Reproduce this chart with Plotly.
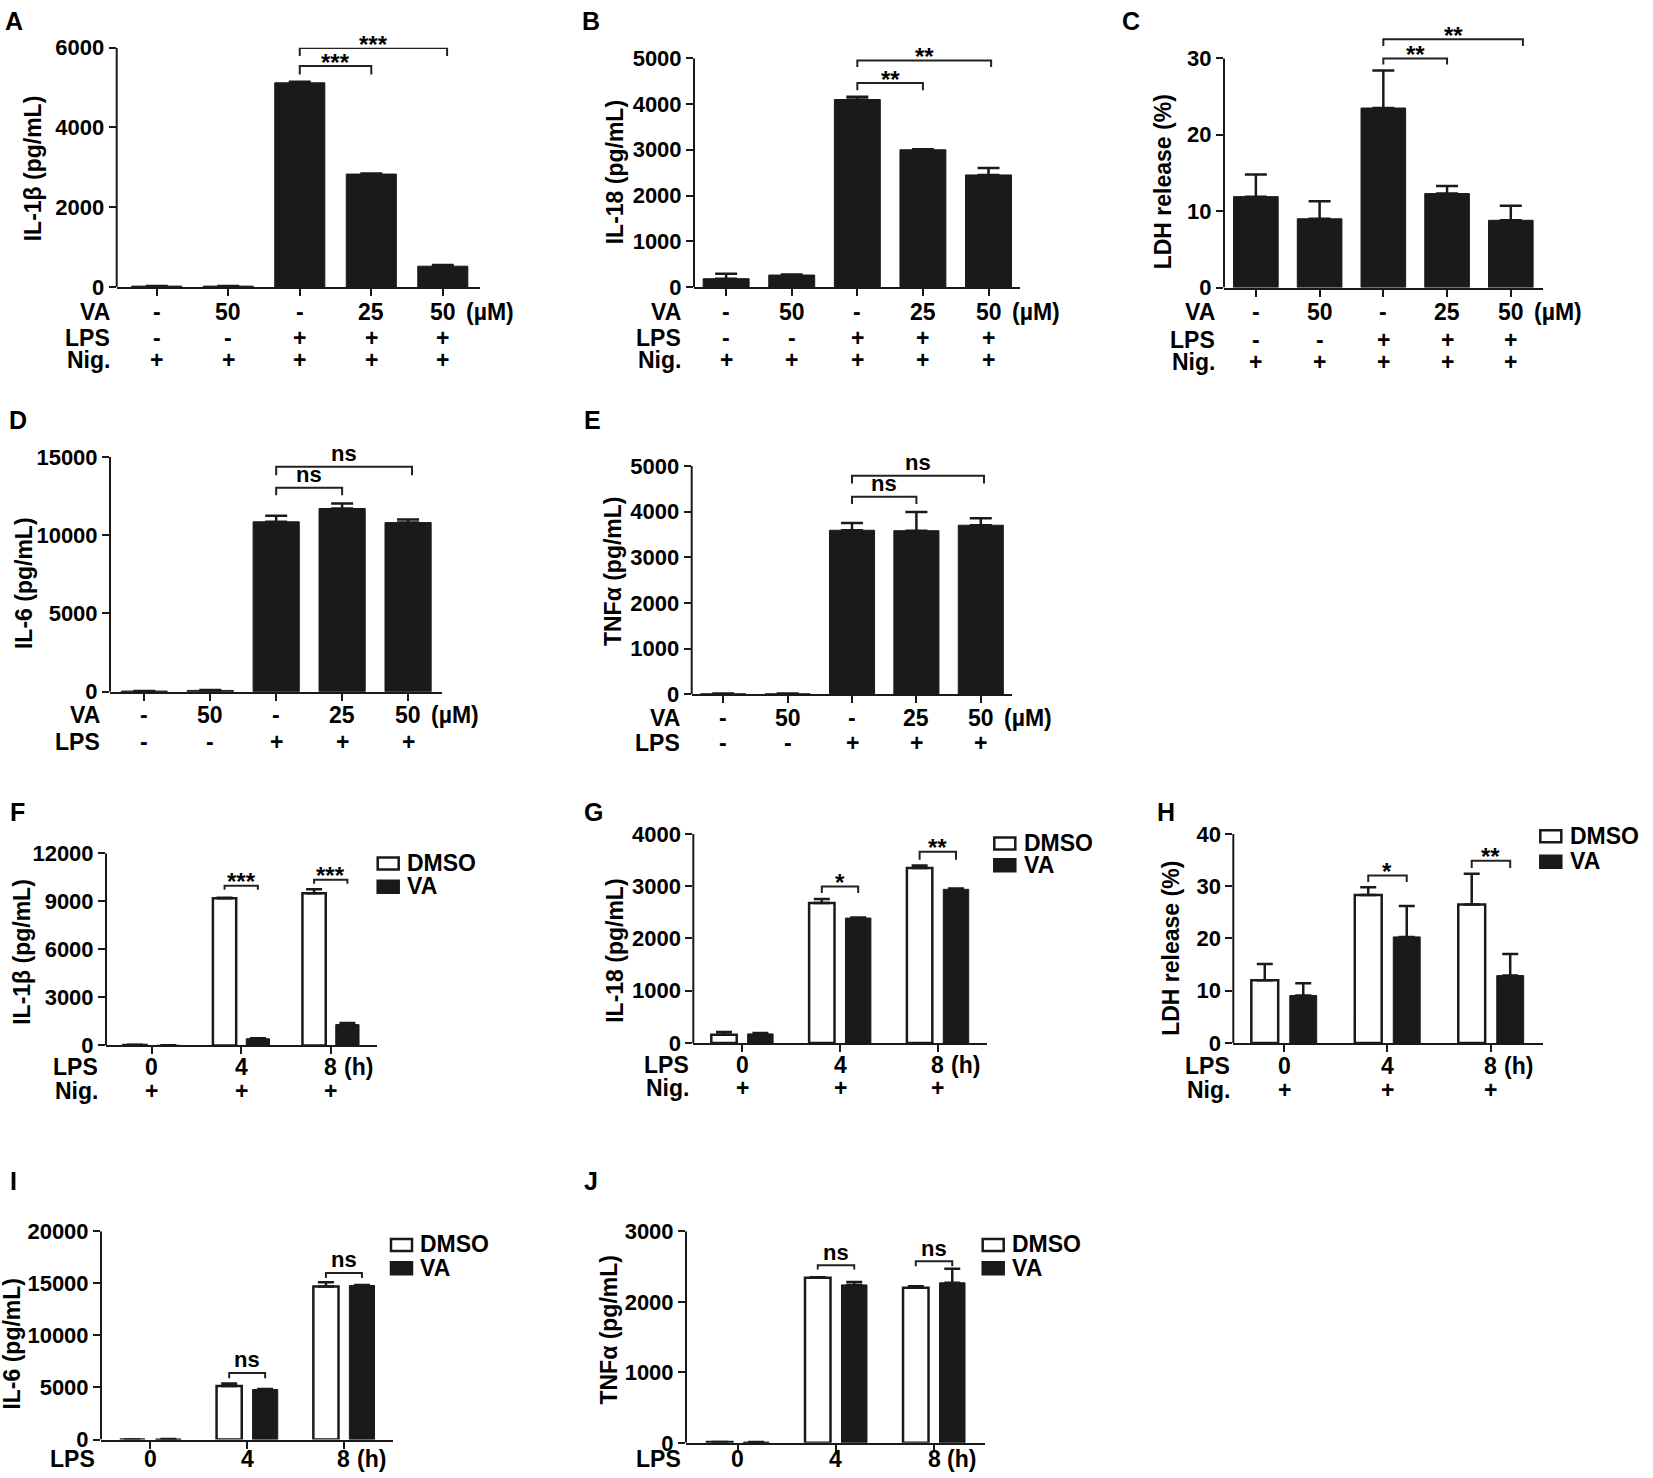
import plotly.graph_objects as go

W, H = 1653, 1478
FONT = 'Liberation Sans, Arial, Helvetica, sans-serif'
INK = '#1a1a1a'

# ---------------- data ----------------
# x labels
va_dose = ['-', '50', '-', '25', '50']
lps_dose = ['-', '-', '+', '+', '+']
nig_dose = ['+', '+', '+', '+', '+']
lps_time = ['0', '4', '8']
nig_time = ['+', '+', '+']

# A-E: VA dose response
il1b_va = [20, 20, 5120, 2830, 520]
il1b_va_err = [5, 5, 25, 15, 30]
il18_va = [180, 260, 4100, 3000, 2450]
il18_va_err = [110, 10, 60, 10, 150]
ldh_va = [11.9, 9.0, 23.5, 12.3, 8.8]
ldh_va_err = [2.9, 2.3, 4.9, 1.0, 1.9]
il6_va = [40, 80, 10850, 11700, 10800]
il6_va_err = [10, 20, 380, 320, 190]
tnf_va = [10, 10, 3590, 3580, 3700]
tnf_va_err = [5, 5, 160, 410, 150]

# F-J: LPS time course, DMSO vs VA
il1b_dmso = [30, 9190, 9500]
il1b_dmso_err = [10, 30, 250]
il1b_t_va = [10, 420, 1300]
il1b_t_va_err = [5, 30, 100]
il18_dmso = [160, 2680, 3350]
il18_dmso_err = [50, 75, 45]
il18_t_va = [175, 2390, 2940]
il18_t_va_err = [15, 10, 15]
ldh_dmso = [12.0, 28.3, 26.5]
ldh_dmso_err = [3.1, 1.5, 5.9]
ldh_t_va = [9.1, 20.3, 12.9]
ldh_t_va_err = [2.35, 5.9, 4.15]
il6_dmso = [0, 5150, 14700]
il6_dmso_err = [0, 230, 400]
il6_t_va = [50, 4800, 14800]
il6_t_va_err = [10, 50, 50]
tnf_dmso = [10, 2340, 2200]
tnf_dmso_err = [3, 10, 20]
tnf_t_va = [10, 2240, 2270]
tnf_t_va_err = [3, 40, 200]

rows5 = lambda y: [('VA', va_dose, y[0]), ('LPS', lps_dose, y[1]), ('Nig.', nig_dose, y[2])]

# geometry in pixels: box = (y-axis x, x-axis right end, y of zero, y of top tick)
panels = [
    dict(letter='A', lxy=(3, 15), title='IL-1β (pg/mL)', txy=(33, 168),
         box=(116.7, 480, 286.7, 47.3), ymax=6000, ylim=6000, dtick=2000, xr=(-0.56, 4.52),
         bars=[('VA', il1b_va, il1b_va_err)],
         rows=rows5((311.7, 337.7, 360)), rowx=111.7, unit='(µM)', ushift=21,
         sig=[(2, 3, 5538, 5330, '***'), (2, 4.06, 5990, 5789, '***')]),
    dict(letter='B', lxy=(580, 16), title='IL-18 (pg/mL)', txy=(615, 172),
         box=(694, 1020, 286.7, 58), ymax=5000, ylim=5000, dtick=1000, xr=(-0.49, 4.48),
         bars=[('VA', il18_va, il18_va_err)],
         rows=rows5((311.7, 337.7, 360)), rowx=683.3, unit='(µM)', ushift=21,
         sig=[(2, 3, 4461, 4301, '**'), (2, 4.04, 4951, 4811, '**')]),
    dict(letter='C', lxy=(1120, 16), title='LDH release (%)', txy=(1163, 182),
         box=(1224, 1543.3, 287.3, 58), ymax=30, ylim=33, dtick=10, xr=(-0.5, 4.51),
         bars=[('VA', ldh_va, ldh_va_err)],
         rows=rows5((311.7, 340, 361.7)), rowx=1216.7, unit='(µM)', ushift=21,
         sig=[(2, 3, 29.97, 29.19, '**'), (2, 4.19, 32.5, 31.62, '**')]),
    dict(letter='D', lxy=(7, 420), title='IL-6 (pg/mL)', txy=(24, 583),
         box=(110, 441.7, 691.7, 456.7), ymax=15000, ylim=15000, dtick=5000, xr=(-0.52, 4.51),
         bars=[('VA', il6_va, il6_va_err)],
         rows=[('VA', va_dose, 715), ('LPS', lps_dose, 741.7)], rowx=101.7, unit='(µM)', ushift=21,
         sig=[(2, 3, 13021, 12553, 'ns'), (2, 4.06, 14362, 13830, 'ns')]),
    dict(letter='E', lxy=(582, 420), title='TNFα (pg/mL)', txy=(613, 571),
         box=(691.7, 1011.7, 694.3, 465.7), ymax=5000, ylim=5000, dtick=1000, xr=(-0.49, 4.48),
         bars=[('VA', tnf_va, tnf_va_err)],
         rows=[('VA', va_dose, 718.3), ('LPS', lps_dose, 743.3)], rowx=681.7, unit='(µM)', ushift=21,
         sig=[(2, 3, 4321, 4162, 'ns'), (2, 4.05, 4780, 4614, 'ns')]),
    dict(letter='F', lxy=(8, 812), title='IL-1β (pg/mL)', txy=(22, 952),
         box=(106, 377.3, 1045.7, 853.3), ymax=12000, ylim=12000, dtick=3000, xr=(-0.51, 2.52),
         bars=[('DMSO', il1b_dmso, il1b_dmso_err), ('VA', il1b_t_va, il1b_t_va_err)],
         rows=[('LPS', lps_time, 1067.7), ('Nig.', nig_time, 1091.7)], rowx=100, unit='(h)', ushift=11,
         sig=[(0.814, 1.186, 9963, 9713, '***'), (1.814, 2.186, 10337, 10087, '***')],
         legend=(376.7, 856.7, 880, 405)),
    dict(letter='G', lxy=(582, 812), title='IL-18 (pg/mL)', txy=(615, 951),
         box=(693.3, 986.7, 1043.3, 834), ymax=4000, ylim=4000, dtick=1000, xr=(-0.5, 2.5),
         bars=[('DMSO', il18_dmso, il18_dmso_err), ('VA', il18_t_va, il18_t_va_err)],
         rows=[('LPS', lps_time, 1065), ('Nig.', nig_time, 1088.3)], rowx=691, unit='(h)', ushift=11,
         sig=[(0.814, 1.186, 2994, 2868, '*'), (1.814, 2.186, 3658, 3505, '**')],
         legend=(993.3, 836.7, 858.3, 1021.7)),
    dict(letter='H', lxy=(1155, 812), title='LDH release (%)', txy=(1171, 949),
         box=(1233.3, 1542.7, 1043.3, 834), ymax=40, ylim=40, dtick=10, xr=(-0.49, 2.5),
         bars=[('DMSO', ldh_dmso, ldh_dmso_err), ('VA', ldh_t_va, ldh_t_va_err)],
         rows=[('LPS', lps_time, 1066.7), ('Nig.', nig_time, 1090)], rowx=1231.7, unit='(h)', ushift=11,
         sig=[(0.814, 1.186, 32.05, 30.78, '*'), (1.814, 2.186, 34.86, 33.46, '**')],
         legend=(1539.3, 829.3, 855, 1568.3)),
    dict(letter='I', lxy=(8, 1181), title='IL-6 (pg/mL)', txy=(12, 1344),
         box=(101, 393.3, 1440, 1231.7), ymax=20000, ylim=20000, dtick=5000, xr=(-0.51, 2.51),
         bars=[('DMSO', il6_dmso, il6_dmso_err), ('VA', il6_t_va, il6_t_va_err)],
         rows=[('LPS', lps_time, 1461.7)], rowx=96.7, unit='(h)', ushift=11,
         sig=[(0.814, 1.186, 6400, 5885, 'ns'), (1.814, 2.186, 16000, 15520, 'ns')],
         legend=(390, 1238.3, 1261.7, 418.3)),
    dict(letter='J', lxy=(582, 1181), title='TNFα (pg/mL)', txy=(609, 1330),
         box=(686, 985, 1443.3, 1231.7), ymax=3000, ylim=3000, dtick=1000, xr=(-0.53, 2.52),
         bars=[('DMSO', tnf_dmso, tnf_dmso_err), ('VA', tnf_t_va, tnf_t_va_err)],
         rows=[('LPS', lps_time, 1463.3)], rowx=682.7, unit='(h)', ushift=11,
         sig=[(0.814, 1.186, 2519, 2458, 'ns'), (1.814, 2.186, 2576, 2505, 'ns')],
         legend=(981.7, 1238.3, 1261.7, 1010)),
]

# the photographed page came out squeezed vertically (about 0.984, centred),
# so vertical pixel positions are spread out by the same amount beforehand
YS, YO = 0.9837, 11.6


def px(x):
    return x / W


def py(y, lo=0, hi=H):
    y = min(max((y - YO) / YS, lo), hi)
    return 1 - y / H


def bold(size):
    return dict(family=FONT, size=size, color='black', weight='bold')


fig = go.Figure()
shapes, annots = [], []

for i, p in enumerate(panels, start=1):
    sx = '' if i == 1 else str(i)
    xa, ya = 'x' + sx, 'y' + sx
    xl, xr, y0, yt = p['box']
    ppu = (y0 - yt) / p['ymax']
    ytop = y0 - p['ylim'] * ppu
    n = len(p['bars'][0][1])
    tv = list(range(0, p['ymax'] + p['dtick'], p['dtick']))

    fig.update_layout({
        'xaxis' + sx: dict(domain=[px(xl), px(xr)], anchor=ya, range=list(p['xr']),
                           tickvals=list(range(n)), showticklabels=False, ticks='outside',
                           ticklen=7, tickwidth=2, tickcolor=INK, showline=True, linewidth=2,
                           linecolor=INK, showgrid=False, zeroline=False, fixedrange=True),
        'yaxis' + sx: dict(domain=[py(y0), py(ytop)], anchor=xa, range=[0, p['ylim']],
                           tickvals=tv, ticktext=[str(v) for v in tv], ticks='outside',
                           ticklen=7, tickwidth=2, tickcolor=INK, tickfont=bold(22),
                           showline=False, showgrid=False, zeroline=False, fixedrange=True),
    })

    nb = len(p['bars'])
    for j, (name, vals, errs) in enumerate(p['bars']):
        if nb == 1:
            width, offset, fill, lw, cap = 0.70, -0.35, INK, 1, 11
        else:
            width = 0.26
            offset = (-0.186 if j == 0 else 0.186) - width / 2
            fill = 'white' if name == 'DMSO' else INK
            lw = 2.5 if name == 'DMSO' else 1
            cap = 8
        fig.add_trace(go.Bar(
            x=list(range(n)), y=vals, xaxis=xa, yaxis=ya, name=name,
            width=width, offset=offset, showlegend=False,
            marker=dict(color=fill, line=dict(color=INK, width=lw)),
            error_y=dict(type='data', array=errs, arrayminus=[0] * n, symmetric=False,
                         color=INK, thickness=2.5, width=cap),
        ))

    # y axis line only up to the top tick
    shapes.append(dict(type='line', xref=xa + ' domain', yref=ya, x0=0, x1=0,
                       y0=0, y1=p['ymax'], line=dict(color=INK, width=2)))

    # significance brackets
    for a, b, yb, yd, txt in p['sig']:
        shapes.append(dict(type='path', xref=xa, yref=ya,
                           path=f'M {a},{yd} L {a},{yb} L {b},{yb} L {b},{yd}',
                           line=dict(color='#222222', width=2)))
        if txt == 'ns':
            f, ys = bold(22), 13
        else:
            f, ys = bold(24), 4
        annots.append(dict(xref=xa, yref=ya, x=(a + b) / 2, y=yb, text=txt, showarrow=False,
                           xanchor='center', yanchor='middle', yshift=ys, font=f))

    # row labels under the x axis
    for label, vals, yy in p['rows']:
        yr = py(yy, hi=H - 6)
        annots.append(dict(xref='paper', yref='paper', x=px(p['rowx']), y=yr, text=label,
                           xanchor='right', yanchor='middle', showarrow=False, font=bold(23)))
        for k, v in enumerate(vals):
            annots.append(dict(xref=xa, yref='paper', x=k, y=yr, text=v, xanchor='center',
                               yanchor='middle', showarrow=False, font=bold(23)))
    annots.append(dict(xref=xa, yref='paper', x=n - 1, y=py(p['rows'][0][2], hi=H - 6),
                       text=p['unit'], xanchor='left', yanchor='middle', xshift=p['ushift'],
                       showarrow=False, font=bold(23)))

    # y title and panel letter
    annots.append(dict(xref='paper', yref='paper', x=px(p['txy'][0]), y=py(p['txy'][1]),
                       text=p['title'], textangle=-90, xanchor='center', yanchor='middle',
                       showarrow=False, font=bold(23)))
    annots.append(dict(xref='paper', yref='paper', x=px(p['lxy'][0]), y=py(p['lxy'][1], lo=9),
                       text=p['letter'], xanchor='left', yanchor='middle', showarrow=False,
                       font=bold(25)))

    # hand drawn legend (wide boxes like the original)
    if 'legend' in p:
        bx, yd_top, yv_top, tx = p['legend']
        for top, fill, name in [(yd_top, 'white', 'DMSO'), (yv_top, INK, 'VA')]:
            shapes.append(dict(type='rect', xref='paper', yref='paper',
                               x0=px(bx + 1), x1=px(bx + 22), y0=py(top + 1), y1=py(top + 13),
                               fillcolor=fill, line=dict(color=INK, width=2.5)))
            annots.append(dict(xref='paper', yref='paper', x=px(tx), y=py(top + 6.5), text=name,
                               xanchor='left', yanchor='middle', showarrow=False, font=bold(23)))

fig.update_layout(
    width=W, height=H, autosize=False,
    margin=dict(l=0, r=0, t=0, b=0),
    paper_bgcolor='white', plot_bgcolor='rgba(0,0,0,0)',
    barmode='overlay', showlegend=False,
    font=dict(family=FONT, color='black'),
    shapes=shapes, annotations=annots,
)

# pin the figure to the top-left corner of the window, nothing around it
pin = ("document.documentElement.style.margin='0';"
       "document.body.style.margin='0';document.body.style.overflow='hidden';"
       "var g=document.getElementById('{plot_id}');"
       "g.style.position='fixed';g.style.left='0px';g.style.top='0px';")
fig.write_html('out.html', config={'displayModeBar': False}, post_script=pin)
